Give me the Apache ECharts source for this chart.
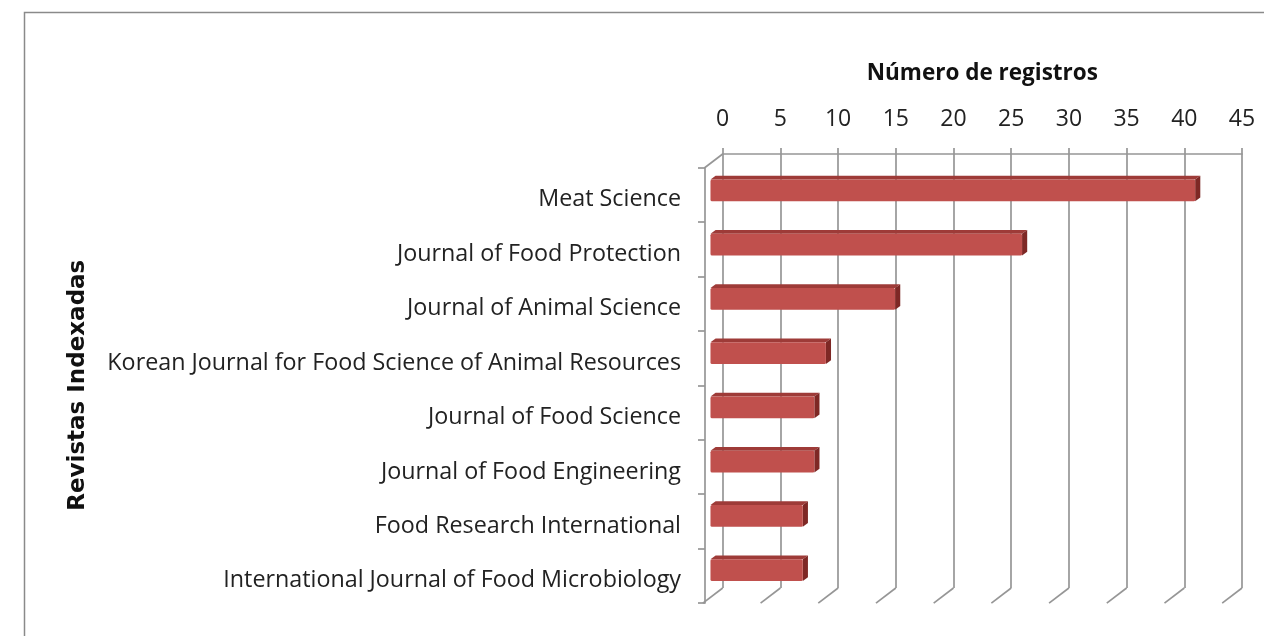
<!DOCTYPE html>
<html>
<head>
<meta charset="utf-8">
<script src="https://cdn.jsdelivr.net/npm/echarts@6/dist/echarts.min.js"></script>
<style>
html,body{margin:0;padding:0;background:#fff;}
#chart{width:1264px;height:636px;}
</style>
</head>
<body>
<div id="chart"></div>
<script>
// ---- data ----
const categories = [
  "Meat Science",
  "Journal of Food Protection",
  "Journal of Animal Science",
  "Korean Journal for Food Science of Animal Resources",
  "Journal of Food Science",
  "Journal of Food Engineering",
  "Food Research International",
  "International Journal of Food Microbiology"
];
const registros = [42, 27, 16, 10, 9, 9, 8, 8];
const xTicks = [0, 5, 10, 15, 20, 25, 30, 35, 40, 45];
const xTitle = "Número de registros";
const yTitle = "Revistas Indexadas";

// ---- styling constants (3D oblique look) ----
const DX = -17.7, DY = 13.5;       // full depth offset back -> front
const F_FRONT = 0.69, F_BACK = 0.40; // bar depth fractions
const GRID_COLOR = '#969696';
const LABEL_FONT = 'Open Sans';

const chart = echarts.init(document.getElementById('chart'));

const option = {
  animation: false,
  backgroundColor: '#fff',
  graphic: [{
    type: 'rect', left: 22, top: 10, silent: true,
    shape: {width: 1400, height: 800},
    style: {fill: 'none', stroke: '#8a8a8a', lineWidth: 1.5}
  }],
  grid: [
    {left: 722.7, top: 154, right: 22, bottom: 48},
    {left: 705, top: 167.5, right: 39.7, bottom: 33}
  ],
  xAxis: [
    {
      gridIndex: 0, type: 'value', position: 'top',
      min: xTicks[0], max: xTicks[xTicks.length - 1], interval: 5,
      name: xTitle, nameLocation: 'middle', nameGap: 69,
      nameTextStyle: {fontFamily: LABEL_FONT, fontWeight: 'bold', fontSize: 22.5, color: '#111'},
      axisLine: {show: true, lineStyle: {color: GRID_COLOR, width: 1.7}},
      axisTick: {show: true, length: 6, lineStyle: {color: GRID_COLOR, width: 1.7}},
      splitLine: {show: true, lineStyle: {color: GRID_COLOR, width: 1.7}},
      axisLabel: {fontFamily: LABEL_FONT, fontSize: 23, color: '#222', margin: 23}
    },
    {gridIndex: 1, type: 'value', show: false, min: xTicks[0], max: xTicks[xTicks.length - 1]}
  ],
  yAxis: [
    {gridIndex: 0, type: 'category', inverse: true, data: categories, show: false},
    {
      gridIndex: 1, type: 'category', inverse: true, data: categories,
      name: yTitle, nameLocation: 'middle', nameRotate: 90, nameGap: 615,
      nameTextStyle: {fontFamily: 'DejaVu Sans', fontWeight: 'bold', fontSize: 23, color: '#111'},
      axisLine: {show: true, lineStyle: {color: GRID_COLOR, width: 1.7}},
      axisTick: {show: true, length: 7, lineStyle: {color: GRID_COLOR, width: 1.7}},
      splitLine: {show: false},
      axisLabel: {
        fontFamily: LABEL_FONT, fontSize: 23.3, color: '#222', margin: 24,
        formatter: function (v) { return '{l|' + v + '}'; },
        rich: {l: {fontFamily: LABEL_FONT, fontSize: 23.3, color: '#222', padding: [10, 0, 0, 0]}}
      }
    }
  ],
  series: [
    // slanted floor ticks
    {
      type: 'custom', xAxisIndex: 0, yAxisIndex: 0, clip: false, silent: true,
      data: xTicks.map(v => [v, 0]),
      renderItem: function (params, api) {
        const cs = params.coordSys;
        const x = api.coord([api.value(0), 0])[0];
        const yb = cs.y + cs.height;
        return {
          type: 'line',
          shape: {x1: x, y1: yb, x2: x + DX * 1.12, y2: yb + DY * 1.12},
          style: {stroke: GRID_COLOR, lineWidth: 1.7}
        };
      }
    },
    // top-left diagonal edge
    {
      type: 'custom', xAxisIndex: 0, yAxisIndex: 0, clip: false, silent: true,
      data: [[xTicks[0], 0]],
      renderItem: function (params, api) {
        const cs = params.coordSys;
        const x = api.coord([api.value(0), 0])[0];
        return {
          type: 'line',
          shape: {x1: x, y1: cs.y, x2: x + DX, y2: cs.y + DY},
          style: {stroke: GRID_COLOR, lineWidth: 1.7}
        };
      }
    },
    // 3D bars
    {
      type: 'custom', xAxisIndex: 0, yAxisIndex: 0, clip: false,
      data: registros.map((v, i) => [v, i]),
      renderItem: function (params, api) {
        const v = api.value(0), i = api.value(1);
        const s = api.coord([0, i]);
        const e = api.coord([v, i]);
        const band = api.size([0, 1])[1];
        const h = band * 0.4;
        const fx = DX * F_FRONT, fy = DY * F_FRONT;
        const bx = DX * F_BACK, by = DY * F_BACK;
        const x0 = s[0] + fx, x1 = e[0] + fx;
        const yc = e[1] + fy;
        const bx0 = s[0] + bx, bx1 = e[0] + bx;
        const ycb = e[1] + by;
        return {
          type: 'group',
          children: [
            {type: 'polygon', shape: {points: [[x0, yc - h/2], [x1, yc - h/2], [bx1, ycb - h/2], [bx0, ycb - h/2]]},
             style: {fill: '#9e3b38'}},
            {type: 'polygon', shape: {points: [[x1, yc - h/2], [bx1, ycb - h/2], [bx1, ycb + h/2], [x1, yc + h/2]]},
             style: {fill: '#7e2825'}},
            {type: 'rect', shape: {x: x0, y: yc - h/2, width: x1 - x0, height: h, r: 1.5},
             style: {fill: '#c0504d'}}
          ]
        };
      }
    }
  ]
};
chart.setOption(option);
</script>
</body>
</html>
